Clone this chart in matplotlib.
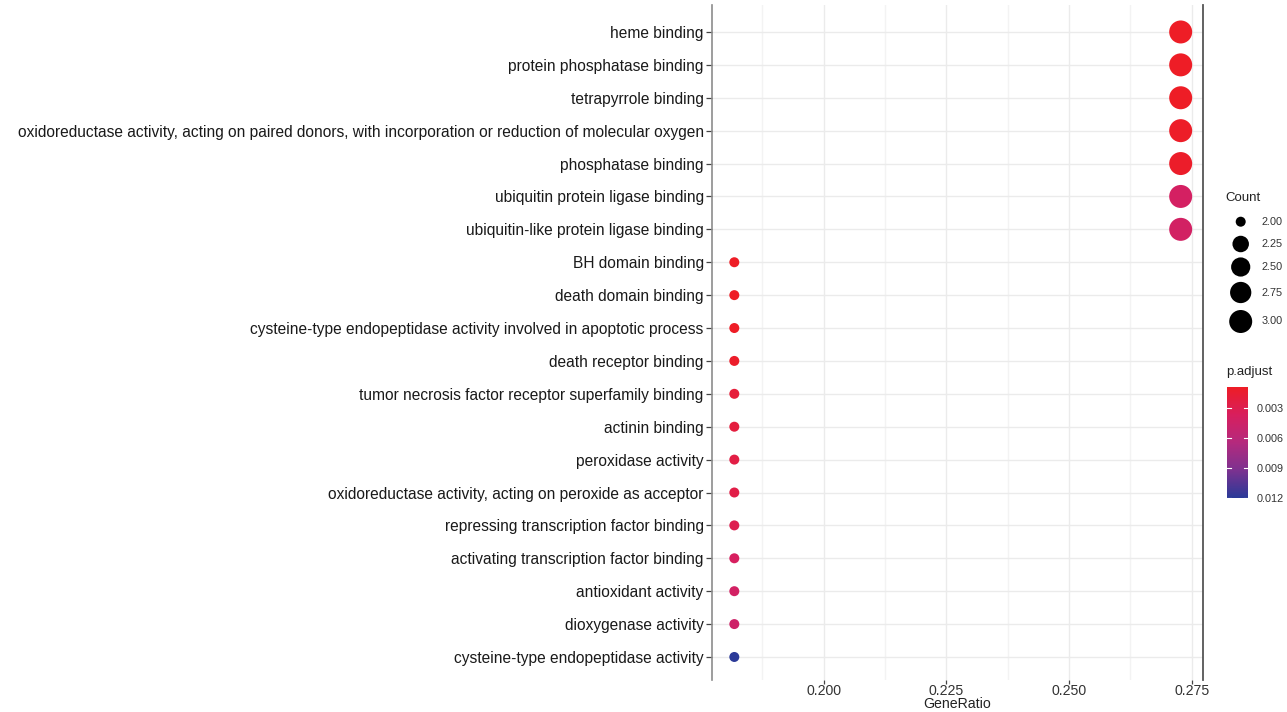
import matplotlib.pyplot as plt
from matplotlib.colors import LinearSegmentedColormap, Normalize
import numpy as np

plt.rcParams['font.family'] = ['Liberation Sans', 'DejaVu Sans']

# GO terms, top to bottom
terms = [
    "heme binding",
    "protein phosphatase binding",
    "tetrapyrrole binding",
    "oxidoreductase activity, acting on paired donors, with incorporation or reduction of molecular oxygen",
    "phosphatase binding",
    "ubiquitin protein ligase binding",
    "ubiquitin-like protein ligase binding",
    "BH domain binding",
    "death domain binding",
    "cysteine-type endopeptidase activity involved in apoptotic process",
    "death receptor binding",
    "tumor necrosis factor receptor superfamily binding",
    "actinin binding",
    "peroxidase activity",
    "oxidoreductase activity, acting on peroxide as acceptor",
    "repressing transcription factor binding",
    "activating transcription factor binding",
    "antioxidant activity",
    "dioxygenase activity",
    "cysteine-type endopeptidase activity",
]
counts = [3, 3, 3, 3, 3, 3, 3, 2, 2, 2, 2, 2, 2, 2, 2, 2, 2, 2, 2, 2]
gene_ratio = [c / 11 for c in counts]
p_adjust = [0.0009, 0.0009, 0.0009, 0.0010, 0.0011, 0.0040, 0.0041,
            0.0009, 0.0009, 0.0009, 0.0011, 0.0019, 0.0021, 0.0024,
            0.0026, 0.0030, 0.0037, 0.0041, 0.0045, 0.0120]

x_ticks = [0.200, 0.225, 0.250, 0.275]
legend_counts = [2.00, 2.25, 2.50, 2.75, 3.00]
cbar_ticks = [0.003, 0.006, 0.009, 0.012]

cmap = LinearSegmentedColormap.from_list(
    "padj", [(0.0, "#EE1D26"), (0.25, "#D81F5E"), (0.5, "#B52A7E"),
             (0.75, "#7D3290"), (1.0, "#2B3A98")])
norm = Normalize(vmin=0.00087, vmax=0.0120)

PX = 0.72  # points per pixel at dpi 100


def dot_size(c):
    # ggplot-like area palette: diameter grows with sqrt of rescaled count
    t = (np.asarray(c, dtype=float) - 2.0) / 1.0
    d = 10 + 13 * np.sqrt(np.clip(t, 0, 1))
    return (d * PX) ** 2


W, H = 1287, 712
fig = plt.figure(figsize=(W / 100, H / 100), dpi=100)
ax = fig.add_axes([712 / W, 1 - 680 / H, (1203 - 712) / W, (680 - 5) / H])

n = len(terms)
ypos = np.arange(n)[::-1]
ax.scatter(gene_ratio, ypos, s=dot_size(counts), c=p_adjust, cmap=cmap, norm=norm,
           linewidths=0, zorder=3)

ax.set_xlim(2 / 11 - 0.004545, 3 / 11 + 0.004545)
ax.set_ylim(-0.7, n - 1 + 0.82)
ax.set_yticks(ypos)
ax.set_yticklabels(terms, fontsize=11.2, color="#1a1a1a")
ax.set_xticks(x_ticks)
ax.set_xticklabels([f"{v:.3f}" for v in x_ticks], fontsize=10.2, color="#333333")
ax.set_xticks([0.1875, 0.2125, 0.2375, 0.2625], minor=True)
fig.text((712 + 1203) / 2 / W, 1 - 711 / H, "GeneRatio", fontsize=10.2,
         color="#222222", ha="center", va="bottom")

ax.grid(True, which="major", color="#EBEBEB", lw=1.0, zorder=0)
ax.grid(True, which="minor", axis="x", color="#F3F3F3", lw=1.0, zorder=0)
ax.tick_params(axis="y", which="major", length=4, width=0.9, color="#444444", pad=2)
ax.tick_params(axis="x", which="major", length=3, width=0.9, color="#444444", pad=0)
ax.tick_params(axis="x", which="minor", length=0)
for side in ["top", "bottom"]:
    ax.spines[side].set_visible(False)
ax.spines["left"].set_color("#8C8C8C")
ax.spines["left"].set_linewidth(1.2)
ax.spines["right"].set_color("#555555")
ax.spines["right"].set_linewidth(1.3)

# size legend
lax = fig.add_axes([1220 / W, 1 - 335 / H, 67 / W, 125 / H])
lax.set_xlim(0, 67)
lax.set_ylim(335, 210)
lax.axis("off")
leg_y = [221.7, 244, 267, 292.5, 321.5]
lax.scatter([20.7] * len(legend_counts), leg_y, s=dot_size(legend_counts),
            color="black", linewidths=0)
for yy, c in zip(leg_y, legend_counts):
    lax.text(42.0, yy, f"{c:.2f}", fontsize=7.8, color="#333333", va="center", ha="left")
fig.text(1225 / W, 1 - 198 / H, "Count", fontsize=9.5, color="#222222", va="center")

# colour bar
cax = fig.add_axes([1227 / W, 1 - 498 / H, 21 / W, (498 - 387) / H])
grad = np.linspace(norm.vmin, norm.vmax, 200).reshape(-1, 1)
cax.imshow(grad, aspect="auto", cmap=cmap, norm=norm,
           extent=[0, 1, norm.vmax, norm.vmin])
cax.set_ylim(norm.vmax, norm.vmin)
cax.set_xlim(0, 1)
cax.set_xticks([])
cax.yaxis.tick_right()
cax.set_yticks(cbar_ticks)
cax.set_yticklabels([f"{v:.3f}" for v in cbar_ticks], fontsize=7.8, color="#333333")
cax.tick_params(axis="y", length=0, pad=6)
for v in cbar_ticks:
    cax.plot([0, 0.2], [v, v], color="white", lw=0.8)
    cax.plot([0.8, 1], [v, v], color="white", lw=0.8)
for s in cax.spines.values():
    s.set_visible(False)
fig.text(1226 / W, 1 - 372 / H, "p.adjust", fontsize=9.5, color="#222222", va="center")

fig.savefig("out.png", dpi=100)
